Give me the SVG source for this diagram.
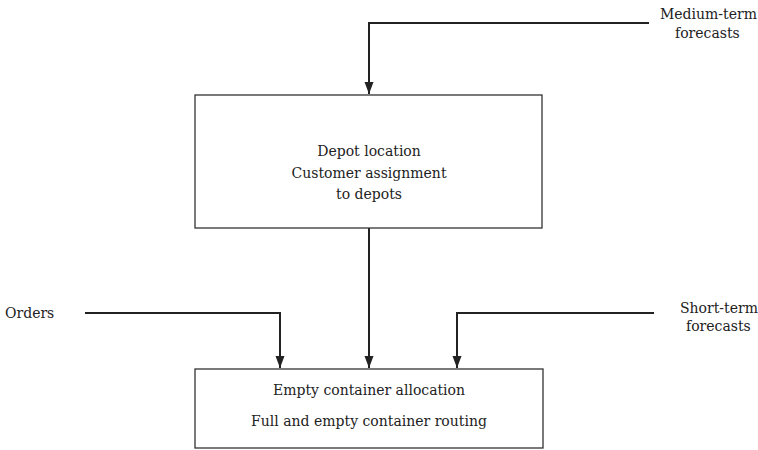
<svg xmlns="http://www.w3.org/2000/svg" width="758" height="450" viewBox="0 0 758 450">
<style>
text{font-family:"DejaVu Serif","Liberation Serif",serif;font-size:14px;fill:#222}
.m{text-anchor:middle}
.box{fill:#fff;stroke:#333;stroke-width:1.3}
.c{fill:none;stroke:#222;stroke-width:2}
</style>
<defs>
<marker id="a" viewBox="0 0 12 10" refX="12" refY="5" markerWidth="12" markerHeight="10" markerUnits="userSpaceOnUse" orient="auto"><path d="M0,0.5 L12,5 L0,9.5 Z" fill="#222"/></marker>
</defs>
<rect width="758" height="450" fill="#fff"/>
<g id="connectors">
<path class="c" d="M649,23 H369 V94" marker-end="url(#a)"/>
<path class="c" d="M369,228 V368" marker-end="url(#a)"/>
<path class="c" d="M85,313 H280 V368" marker-end="url(#a)"/>
<path class="c" d="M654,313 H457 V368" marker-end="url(#a)"/>
</g>
<g id="planning">
<rect class="box" x="195" y="95" width="347" height="133"/>
<text class="m" x="369" y="156">Depot location</text>
<text class="m" x="369" y="178">Customer assignment</text>
<text class="m" x="369" y="199">to depots</text>
</g>
<g id="operations">
<rect class="box" x="195" y="369" width="348" height="79"/>
<text class="m" x="369" y="395">Empty container allocation</text>
<text class="m" x="369" y="426">Full and empty container routing</text>
</g>
<g id="medium">
<text x="660" y="19">Medium-term</text>
<text x="675" y="38">forecasts</text>
</g>
<g id="orders">
<text x="5" y="318">Orders</text>
</g>
<g id="short">
<text x="680" y="313">Short-term</text>
<text x="686" y="331">forecasts</text>
</g>
</svg>
